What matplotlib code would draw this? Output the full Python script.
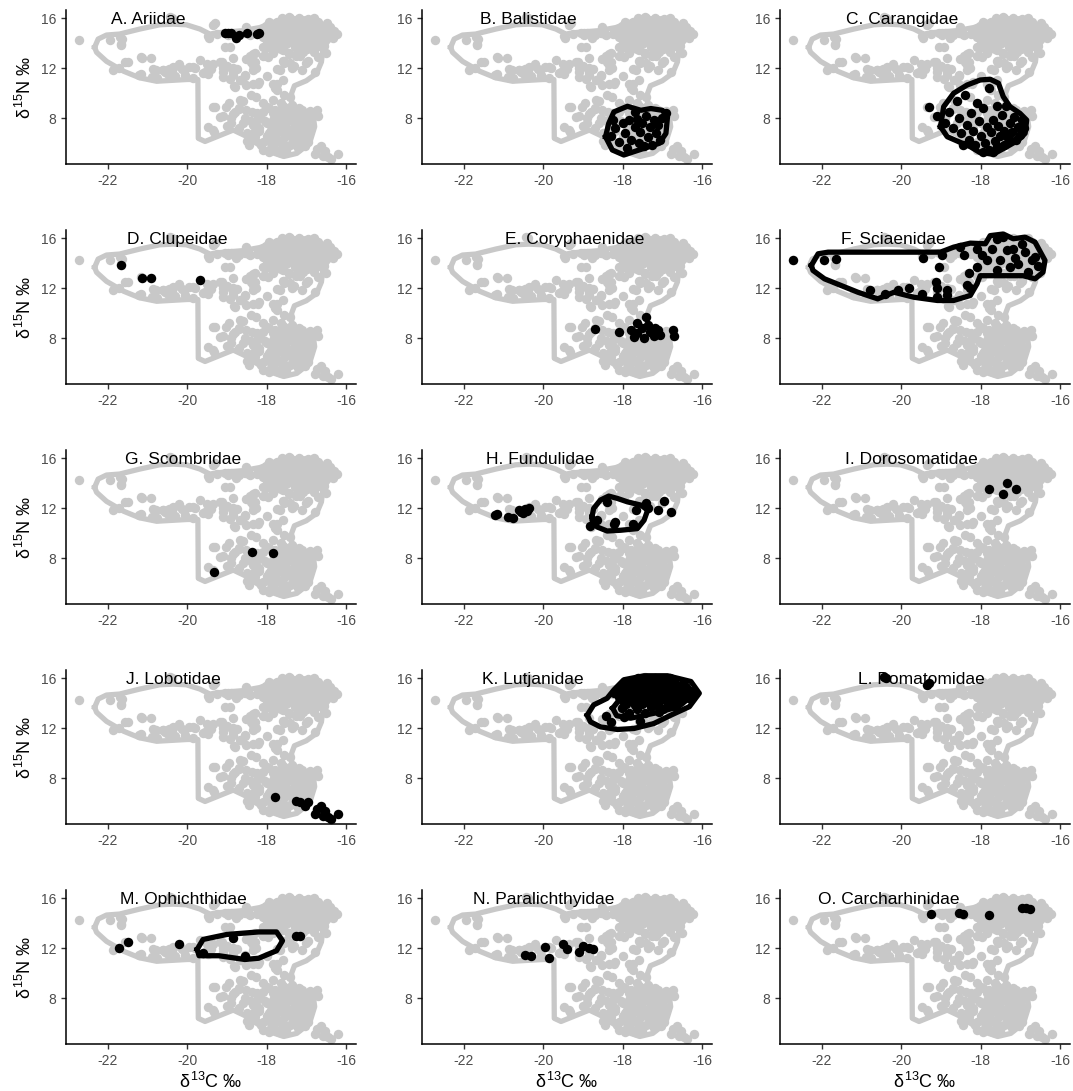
import numpy as np
import matplotlib
matplotlib.use("Agg")
import matplotlib.pyplot as plt

plt.rcParams["font.family"] = ["Liberation Sans", "DejaVu Sans"]
plt.rcParams["mathtext.fontset"] = "custom"
plt.rcParams["mathtext.rm"] = "Liberation Sans"
plt.rcParams["mathtext.it"] = "Liberation Sans"

# ---- data (d13C, d15N) ----
panel_names = ["A. Ariidae", "B. Balistidae", "C. Carangidae", "D. Clupeidae", "E. Coryphaenidae",
               "F. Sciaenidae", "G. Scombridae", "H. Fundulidae", "I. Dorosomatidae", "J. Lobotidae",
               "K. Lutjanidae", "L. Pomatomidae", "M. Ophichthidae", "N. Paralichthyidae", "O. Carcharhinidae"]

A_x = [-19.05, -18.97, -18.9, -18.78, -18.7, -18.5, -18.25, -18.2]
A_y = [14.85, 14.85, 14.8, 14.45, 14.65, 14.85, 14.75, 14.85]

B_x = [-18.3, -18.2, -18.1, -18.0, -17.95, -17.9, -17.85, -17.8, -17.7, -17.63, -17.6, -17.55, -17.5,
       -17.45, -17.4, -17.35, -17.3, -17.25, -17.2, -17.15, -17.1, -17.05, -17.0, -16.91, -18.25, -17.7]
B_y = [6.6, 7.2, 6.1, 7.6, 6.8, 5.6, 7.9, 6.3, 7.3, 7.98, 6.0, 6.9, 7.6,
       5.8, 8.2, 6.5, 7.3, 5.9, 7.9, 6.8, 7.5, 6.3, 8.0, 8.4, 7.9, 8.5]
B_line_x = [-18.43, -18.35, -18.22, -17.88, -17.54, -17.29, -17.0, -16.87, -16.91, -17.08, -17.46, -17.97, -18.26]
B_line_y = [6.52, 7.59, 8.51, 8.96, 8.64, 8.78, 8.64, 8.11, 6.79, 6.0, 5.6, 5.07, 5.47]

C_x = [-19.3, -19.1, -18.9, -18.8, -18.7, -18.6, -18.55, -18.5, -18.4, -18.35, -18.3, -18.25, -18.2,
       -18.15, -18.1, -18.05, -18.0, -17.95, -17.9, -17.85, -17.8, -17.8, -17.75, -17.7, -17.65, -17.6,
       -17.6, -17.55, -17.5, -17.45, -17.4, -17.4, -17.35, -17.3, -17.25, -17.2, -17.15, -17.1, -17.05,
       -17.0, -16.95, -16.9, -18.45, -17.95, -17.7]
C_y = [8.88, 8.2, 7.6, 8.5, 7.2, 9.4, 8.0, 6.8, 9.9, 7.5, 6.3, 8.4, 7.0,
       5.9, 9.2, 7.8, 6.6, 8.85, 6.0, 7.3, 10.4, 5.5, 6.9, 7.9, 6.2, 8.98,
       5.8, 7.4, 6.6, 8.3, 5.9, 7.0, 9.0, 6.4, 7.6, 6.9, 8.1, 6.3, 7.3,
       6.7, 7.9, 7.2, 5.9, 5.3, 5.3]
C_line_x = [-19.01, -18.93, -18.68, -18.34, -18.01, -17.76, -17.55, -17.43, -17.26, -17.01, -16.84,
            -16.88, -17.05, -17.34, -17.68, -18.01, -18.26, -18.55, -18.84]
C_line_y = [7.33, 8.93, 10.0, 10.66, 11.06, 11.12, 10.8, 9.73, 8.93, 8.4, 7.86,
            6.8, 6.26, 5.73, 5.14, 5.25, 5.73, 6.13, 6.53]

D_x = [-21.66, -21.13, -20.9, -19.68]
D_y = [13.83, 12.85, 12.85, 12.64]

E_x = [-18.7, -18.09, -17.78, -17.71, -17.63, -17.5, -17.46, -17.4, -17.36, -17.3, -17.22, -17.18,
       -17.1, -16.74, -16.7, -17.63, -17.06]
E_y = [8.72, 8.48, 8.66, 8.13, 9.2, 8.8, 8.0, 9.73, 9.06, 8.5, 8.2, 8.8,
       8.66, 8.66, 8.19, 8.4, 8.25]

F_x = [-22.73, -21.93, -21.63, -20.78, -20.41, -20.09, -19.8, -19.47, -19.44, -19.11, -19.13, -19.11,
       -19.05, -18.97, -18.84, -18.84, -18.51, -18.41, -18.3, -18.34, -18.26, -18.09, -18.09, -17.97,
       -17.84, -17.72, -17.59, -17.59, -17.51, -17.43, -17.34, -17.26, -17.18, -17.13, -17.05, -16.96,
       -16.88, -16.8, -16.71, -16.63, -16.55]
F_y = [14.22, 14.22, 14.3, 11.87, 11.55, 11.87, 12.03, 11.55, 14.43, 11.28, 12.49, 12.03,
       13.68, 14.62, 11.82, 11.45, 15.28, 14.62, 13.22, 12.28, 12.0, 15.1, 13.68, 14.62,
       14.22, 15.1, 15.95, 13.42, 14.22, 16.08, 15.02, 13.68, 15.1, 14.4, 13.9, 15.55,
       14.88, 13.28, 14.22, 14.5, 13.8]
F_line_x = [-22.26, -22.09, -21.84, -19.01, -18.68, -18.26, -17.88, -17.76, -17.43, -17.18, -16.88, -16.63,
            -16.38, -16.43, -16.63, -16.93, -17.34, -18.01, -18.09, -18.26, -18.68, -19.09, -19.68, -20.18,
            -20.59, -21.09, -21.93, -22.22]
F_line_y = [13.82, 14.75, 14.88, 14.88, 15.28, 15.6, 15.55, 16.2, 16.33, 15.95, 16.08, 15.68,
            14.22, 13.28, 12.75, 13.0, 13.0, 13.0, 12.35, 11.42, 11.02, 11.02, 11.28, 11.68,
            11.15, 11.68, 12.75, 13.42]

G_x = [-19.32, -18.38, -17.84]
G_y = [6.93, 8.53, 8.43]

H_x = [-21.22, -21.15, -20.88, -20.75, -20.6, -20.5, -20.45, -20.35, -20.55, -20.4,
       -18.81, -18.64, -18.4, -18.22, -18.18, -17.75, -17.67, -17.42, -17.37, -17.12, -16.95, -16.78]
H_y = [11.44, 11.5, 11.3, 11.18, 11.85, 11.6, 11.95, 12.05, 11.7, 11.8,
       10.56, 11.04, 12.5, 10.72, 10.9, 10.77, 11.84, 12.43, 11.98, 11.84, 12.57, 11.71]
H_line_x = [-18.77, -18.73, -18.56, -18.35, -18.13, -17.88, -17.54, -17.37, -17.46, -17.63, -18.05,
            -18.39, -18.64, -18.77]
H_line_y = [11.31, 11.98, 12.65, 12.97, 12.78, 12.51, 12.25, 11.84, 11.04, 10.37, 10.24,
            10.18, 10.5, 11.04]

I_x = [-17.8, -17.44, -17.33, -17.12]
I_y = [13.5, 13.13, 13.99, 13.5]

J_x = [-17.79, -17.26, -17.16, -17.04, -16.95, -16.79, -16.74, -16.62, -16.53, -16.57, -16.45, -16.37, -16.2]
J_y = [6.47, 6.2, 6.07, 5.8, 6.12, 5.13, 5.53, 5.8, 5.4, 5.0, 4.91, 4.72, 5.13]

K_x = [-17.62, -17.41, -17.18, -16.97, -16.81,
       -17.93, -17.74, -17.52, -17.31, -17.08, -16.92, -16.71, -16.48,
       -18.02, -17.83, -17.58, -17.39, -17.22, -17.01, -16.79, -16.62, -16.41,
       -18.12, -17.88, -17.69, -17.47, -17.28, -17.12, -16.88, -16.69, -16.52, -16.31,
       -18.21, -18.03, -17.79, -17.61, -17.42, -17.19, -16.98, -16.83, -16.58, -16.39, -16.22,
       -18.09, -17.91, -17.72, -17.49, -17.33, -17.07, -16.91, -16.73, -16.49, -16.33,
       -17.98, -17.81, -17.57, -17.38, -17.21, -17.03, -16.78, -16.61,
       -17.92, -17.68, -17.52, -17.27, -17.11, -16.87, -16.68,
       -18.01, -17.63, -17.29, -16.99,
       -17.84, -17.43, -17.09,
       -18.28, -17.97, -18.42, -17.55]
K_y = [16.02, 15.98, 16.05, 15.96, 16.01,
       15.72, 15.68, 15.75, 15.66, 15.71, 15.78, 15.69, 15.64,
       15.41, 15.38, 15.45, 15.36, 15.42, 15.39, 15.47, 15.35, 15.28,
       15.12, 15.06, 15.15, 15.09, 15.18, 15.04, 15.11, 15.14, 15.02, 14.96,
       14.83, 14.78, 14.86, 14.74, 14.81, 14.77, 14.88, 14.72, 14.84, 14.79, 14.71,
       14.52, 14.46, 14.55, 14.48, 14.41, 14.53, 14.45, 14.49, 14.38, 14.44,
       14.21, 14.16, 14.24, 14.13, 14.19, 14.27, 14.11, 14.18,
       13.92, 13.86, 13.95, 13.88, 13.81, 13.94, 13.79,
       13.61, 13.55, 13.66, 13.52,
       13.24, 13.18, 13.29,
       12.48, 12.93, 12.95, 12.6]
K_line_x = [-18.89, -18.73, -18.39, -18.22, -17.97, -17.46, -16.87, -16.28, -16.07, -16.32, -16.78,
            -17.21, -17.71, -18.13, -18.56, -18.81]
K_line_y = [13.05, 13.86, 14.39, 15.06, 15.87, 16.19, 16.19, 15.73, 14.79, 13.72, 13.05,
            12.38, 11.98, 11.9, 12.11, 12.51]
K_line2_x = [-18.25, -18.0, -17.6, -17.0, -16.4, -16.25, -16.6, -17.2, -17.8, -18.15]
K_line2_y = [13.6, 14.6, 15.5, 15.8, 15.4, 14.6, 13.7, 13.2, 12.8, 13.0]

L_x = [-20.38, -20.42, -19.34, -19.3]
L_y = [16.0, 16.08, 15.46, 15.6]

M_x = [-21.72, -21.5, -20.21, -19.6, -18.85, -18.55, -17.26, -17.16]
M_y = [12.05, 12.5, 12.3, 11.6, 12.8, 11.4, 13.0, 13.0]
M_line_x = [-19.75, -19.6, -19.0, -18.2, -17.75, -17.6, -17.75, -18.2, -18.55, -19.2, -19.7]
M_line_y = [11.9, 12.7, 13.1, 13.3, 13.3, 12.6, 11.8, 11.2, 11.1, 11.4, 11.4]

N_x = [-20.45, -20.3, -19.95, -19.85, -19.5, -19.4, -19.1, -19.0, -18.85, -18.75]
N_y = [11.45, 11.35, 12.1, 11.2, 12.3, 11.9, 11.7, 12.2, 12.05, 11.95]

O_x = [-19.25, -18.55, -18.45, -17.8, -16.95, -16.85, -16.75]
O_y = [14.75, 14.85, 14.75, 14.65, 15.25, 15.2, 15.15]

# gray-only points of the full data set that belong to no panel family
other_x = [-19.47, -18.93, -19.35, -19.18, -19.01, -18.84, -18.93, -18.68, -18.55, -18.79, -18.51,
           -18.34, -18.26, -17.84, -17.75, -17.58, -18.34, -18.51, -18.09, -18.34, -19.35, -19.01,
           -18.68, -18.51, -18.84, -19.47, -19.35, -19.18, -21.87, -21.57, -21.15, -20.86, -20.61,
           -20.36, -20.14, -20.06, -19.85, -19.56, -21.66, -21.7, -17.6, -17.3, -17.0, -16.7, -16.5,
           -18.4, -18.2, -18.0, -17.7, -17.5, -17.3, -17.1, -16.9, -18.5, -18.1, -17.8, -17.5, -17.2,
           -17.0, -17.6, -17.9, -18.3, -17.3, -16.95, -18.6, -18.7, -18.9, -19.0, -18.95, -17.85,
           -17.55, -17.75, -17.55, -18.0, -17.2]
other_y = [14.6, 13.67, 12.35, 12.48, 12.08, 11.68, 11.16, 11.02, 11.42, 10.49, 10.63,
           10.76, 9.7, 10.76, 10.23, 11.02, 13.14, 12.7, 12.98, 11.84, 8.9, 8.9,
           9.43, 8.64, 8.38, 7.32, 7.06, 8.1, 11.82, 12.48, 12.87, 11.95, 11.82,
           12.08, 11.95, 11.42, 12.08, 11.68, 13.94, 14.5, 12.6, 12.2, 12.4, 12.9, 13.2,
           7.8, 8.2, 8.9, 8.6, 8.0, 8.6, 8.3, 8.6, 6.2, 5.5, 6.0, 5.4, 5.6,
           6.0, 6.8, 7.1, 7.0, 7.8, 7.0, 7.6, 8.8, 8.0, 7.4, 9.2, 9.5,
           9.9, 11.9, 12.4, 11.4, 13.2]

# outline of the whole data set (gray)
all_line_x = [-22.33, -22.24, -22.03, -21.7, -21.19, -20.69, -20.36, -20.02, -19.68, -19.43, -19.18, -18.6,
              -18.17, -17.58, -16.91, -16.32, -16.24, -16.41, -16.58, -16.62, -16.74, -17.0, -17.3, -17.37,
              -17.37, -17.1, -16.83, -16.79, -16.92, -17.24, -17.57, -17.99, -18.25, -18.47, -18.84, -19.55,
              -19.72, -19.73, -20.0, -20.77, -21.19, -21.6, -22.03, -22.28]
all_line_y = [13.67, 14.33, 14.65, 14.73, 15.13, 15.47, 15.52, 15.47, 15.13, 14.73, 14.85, 15.0,
              15.25, 15.95, 15.95, 15.13, 14.73, 14.35, 13.62, 12.5, 11.6, 11.0, 10.6, 10.0,
              8.6, 8.5, 8.3, 7.33, 6.0, 5.2, 4.95, 5.4, 6.0, 6.5, 7.06, 6.15,
              6.4, 11.1, 11.1, 10.96, 11.23, 11.76, 12.55, 13.27]

# title centres (d13C)
title_x = [-20.97, -20.38, -19.97, -20.24, -19.2, -20.2, -20.1, -20.08, -19.75, -20.35,
           -20.25, -19.5, -20.1, -19.98, -20.3]

xticks = [-22, -20, -18, -16]
yticks = [8, 12, 16]

fam_pts = [(A_x, A_y), (B_x, B_y), (C_x, C_y), (D_x, D_y), (E_x, E_y), (F_x, F_y), (G_x, G_y),
           (H_x, H_y), (I_x, I_y), (J_x, J_y), (K_x, K_y), (L_x, L_y), (M_x, M_y), (N_x, N_y), (O_x, O_y)]
fam_lines = {1: [(B_line_x, B_line_y)], 2: [(C_line_x, C_line_y)], 5: [(F_line_x, F_line_y)],
             7: [(H_line_x, H_line_y)], 10: [(K_line_x, K_line_y), (K_line2_x, K_line2_y)],
             12: [(M_line_x, M_line_y)]}

gray = "#c8c8c8"
all_x = np.concatenate([np.array(p[0]) for p in fam_pts] + [np.array(other_x)])
all_y = np.concatenate([np.array(p[1]) for p in fam_pts] + [np.array(other_y)])


def closed(xs, ys):
    return np.append(xs, xs[0]), np.append(ys, ys[0])


W, H = 1073, 1091
fig = plt.figure(figsize=(W / 100, H / 100), dpi=100)
col_left = [66, 422, 780]
row_bottom = [164, 384, 604, 824, 1044]
aw, ah = 290, 154

for i, name in enumerate(panel_names):
    r, c = divmod(i, 3)
    ax = fig.add_axes([col_left[c] / W, 1 - row_bottom[r] / H, aw / W, ah / H])

    # background: whole data set in gray
    bx, by = closed(all_line_x, all_line_y)
    ax.plot(bx, by, color=gray, lw=3.8, solid_joinstyle="round", zorder=1)
    ax.scatter(all_x, all_y, s=46, color=gray, linewidths=0, zorder=2)

    # this family in black
    for lx, ly in fam_lines.get(i, []):
        cx, cy = closed(lx, ly)
        ax.plot(cx, cy, color="black", lw=3.8, solid_joinstyle="round", zorder=3)
    px, py = fam_pts[i]
    ax.scatter(px, py, s=46, color="black", linewidths=0, zorder=4)

    ax.text(title_x[i], 15.9, name, ha="center", va="center", fontsize=12.5, color="black", zorder=5)

    ax.set_xlim(-23.05, -15.75)
    ax.set_ylim(4.35, 16.65)
    ax.set_xticks(xticks)
    ax.set_xticklabels([str(t) for t in xticks])
    ax.set_yticks(yticks)
    for s in ["top", "right"]:
        ax.spines[s].set_visible(False)
    for s in ["left", "bottom"]:
        ax.spines[s].set_linewidth(1.1)
    ax.tick_params(axis="both", labelsize=10, labelcolor="#4d4d4d", color="#333333", length=3.5, width=1)
    if c == 0:
        ax.set_ylabel(r"$\delta^{15}$N ‰", fontsize=13, labelpad=4)
    if r == 4:
        ax.set_xlabel(r"$\delta^{13}$C ‰", fontsize=13, labelpad=3)

fig.savefig("out.png", dpi=100)
